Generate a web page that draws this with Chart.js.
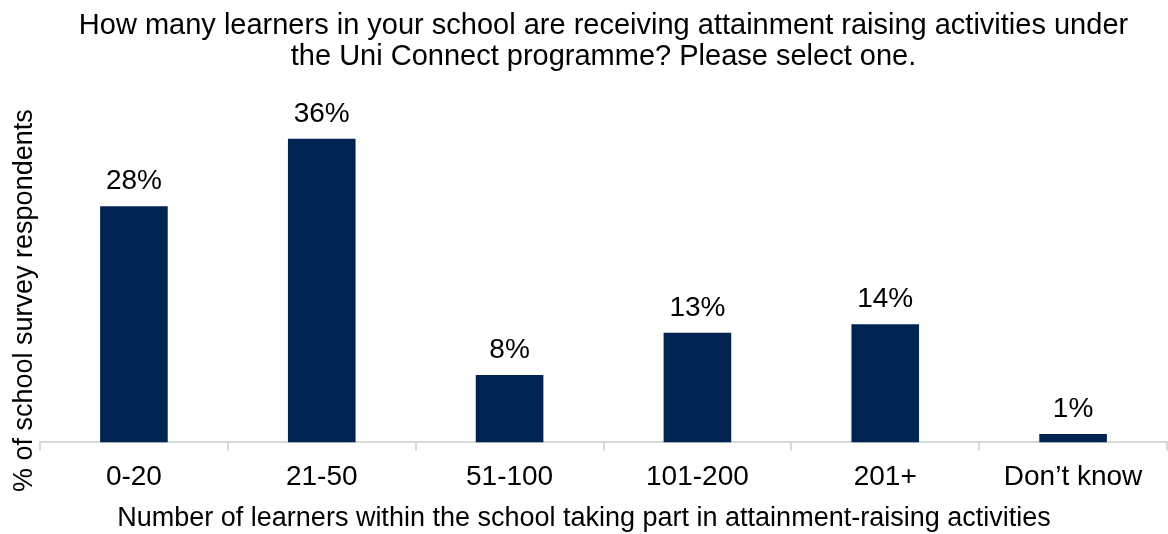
<!DOCTYPE html>
<html>
<head>
<meta charset="utf-8">
<title>Attainment raising activities</title>
<script src="https://cdn.jsdelivr.net/npm/chart.js@4"></script>
<style>
  html, body { margin: 0; padding: 0; background: #fff; }
  #wrap { width: 1168px; height: 534px; }
</style>
</head>
<body>
<div id="wrap"><canvas id="grafico" width="1168" height="534"></canvas></div>
<script>
// categorias e percentuais
const categorias = ['0-20', '21-50', '51-100', '101-200', '201+', 'Don\u2019t know'];
const percentuais = [28, 36, 8, 13, 14, 1];
const tituloX = 'Number of learners within the school taking part in attainment-raising activities';
const tituloY = '% of school survey respondents';

const fonte = 'Liberation Sans, Arial, sans-serif';
const azul = '#002452';

// escreve o percentual acima de cada barra
const rotulos = {
    id: 'rotulos',
    afterDatasetsDraw(chart) {
        const ctx = chart.ctx;
        const meta = chart.getDatasetMeta(0);
        ctx.save();
        ctx.font = '28px ' + fonte;
        ctx.fillStyle = '#000';
        ctx.textAlign = 'center';
        ctx.textBaseline = 'alphabetic';
        meta.data.forEach((barra, i) => {
            ctx.fillText(percentuais[i] + '%', barra.x, barra.y - 17);
        });
        ctx.restore();
    }
};

// titulos dos eixos: X centrado no canvas, Y girado um pouco abaixo do centro da area
const eixos = {
    id: 'eixos',
    afterDraw(chart) {
        const ctx = chart.ctx;
        const area = chart.chartArea;
        ctx.save();
        ctx.font = '27px ' + fonte;
        ctx.fillStyle = '#000';
        ctx.textAlign = 'center';

        ctx.textBaseline = 'middle';
        ctx.fillText(tituloX, chart.width / 2, chart.height - 15);

        ctx.textBaseline = 'alphabetic';
        ctx.translate(area.left - 8, (area.top + area.bottom) / 2 + 27);
        ctx.rotate(-Math.PI / 2);
        ctx.fillText(tituloY, 0, 0);
        ctx.restore();
    }
};

new Chart(document.getElementById('grafico').getContext('2d'), {
    type: 'bar',
    data: {
        labels: categorias,
        datasets: [{
            data: percentuais,
            backgroundColor: azul,
            borderWidth: 0,
            barPercentage: 0.36,
            categoryPercentage: 1
        }]
    },
    options: {
        responsive: false,
        animation: false,
        layout: { padding: { left: 40, right: 1, top: 0, bottom: 30 } },
        plugins: {
            legend: { display: false },
            tooltip: { enabled: false },
            title: {
                display: true,
                text: ['How many learners in your school are receiving attainment raising activities under',
                       'the Uni Connect programme? Please select one.'],
                color: '#000',
                font: { family: fonte, size: 29, weight: 'normal', lineHeight: 1.05 },
                padding: { top: 11, bottom: 33 }
            }
        },
        scales: {
            x: {
                grid: { display: true, drawOnChartArea: false, offset: true, color: '#d9d9d9', tickLength: 8, lineWidth: 2 },
                border: { display: true, color: '#d9d9d9', width: 2 },
                ticks: { color: '#000', font: { family: fonte, size: 28 }, padding: 10 }
            },
            y: {
                min: 0,
                max: 40,
                ticks: { display: false },
                grid: { display: false, drawTicks: false, tickLength: 0 },
                border: { display: false }
            }
        }
    },
    plugins: [rotulos, eixos]
});
</script>
</body>
</html>
